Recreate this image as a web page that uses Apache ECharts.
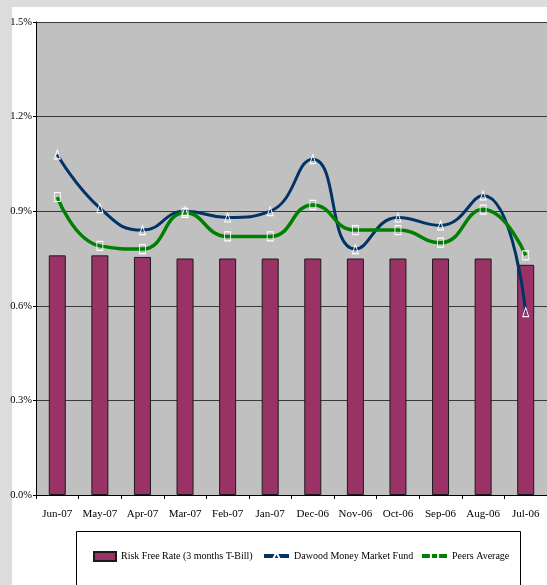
<!DOCTYPE html>
<html>
<head>
<meta charset="utf-8">
<script src="https://cdn.jsdelivr.net/npm/echarts@6/dist/echarts.min.js"></script>
<style>
  html, body { margin: 0; padding: 0; width: 547px; height: 585px; overflow: hidden; background: #dcdcdc; }
  #panel { position: absolute; left: 12px; top: 7px; right: 0; bottom: 0; background: #ffffff; }
  #chart { position: absolute; left: 0; top: 0; width: 547px; height: 585px; }
</style>
</head>
<body>
<div id="panel"></div>
<div id="chart"></div>
<script>
// Monthly returns (%), most recent month first
const categories = ['Jun-07', 'May-07', 'Apr-07', 'Mar-07', 'Feb-07', 'Jan-07',
                    'Dec-06', 'Nov-06', 'Oct-06', 'Sep-06', 'Aug-06', 'Jul-06'];
const riskFreeRate = [0.76, 0.76, 0.755, 0.75, 0.75, 0.75, 0.75, 0.75, 0.75, 0.75, 0.75, 0.73];
const dawoodFund   = [1.08, 0.91, 0.84, 0.90, 0.88, 0.90, 1.065, 0.78, 0.88, 0.855, 0.95, 0.58];
const peersAverage = [0.945, 0.79, 0.78, 0.895, 0.82, 0.82, 0.92, 0.84, 0.84, 0.80, 0.905, 0.76];

const seriesNames = ['Risk Free Rate (3 months T-Bill)', 'Dawood Money Market Fund', 'Peers Average'];
const yMin = 0, yMax = 1.5, yStep = 0.3;

const FONT = 'Liberation Serif';
const chart = echarts.init(document.getElementById('chart'), null, { renderer: 'canvas' });

const legendText = { fontFamily: FONT, fontSize: 10, color: '#000' };
const legendBase = { top: 551, padding: 0, itemGap: 0, textStyle: legendText };

chart.setOption({
  backgroundColor: 'transparent',
  animation: false,
  grid: {
    left: 36, top: 22, width: 516, height: 473,
    show: true, backgroundColor: '#c0c0c0', borderWidth: 0
  },
  xAxis: {
    type: 'category',
    data: categories,
    boundaryGap: true,
    axisLine: { lineStyle: { color: '#000', width: 1 } },
    axisTick: { show: true, length: 4, lineStyle: { color: '#000' } },
    axisLabel: { fontFamily: FONT, fontSize: 11, color: '#000', margin: 14, interval: 0 },
    splitLine: { show: false }
  },
  yAxis: {
    type: 'value',
    min: yMin, max: yMax, interval: yStep,
    axisLine: { show: true, lineStyle: { color: '#000', width: 1 } },
    axisTick: { show: true, length: 3, lineStyle: { color: '#000' } },
    axisLabel: {
      fontFamily: FONT, fontSize: 10.5, color: '#000', margin: 4,
      formatter: v => v.toFixed(1) + '%'
    },
    splitLine: { show: true, lineStyle: { color: '#3a3a3a', width: 1 } }
  },
  legend: [
    Object.assign({ data: [{ name: seriesNames[0], icon: 'rect' }], left: 93, itemWidth: 22, itemHeight: 9 }, legendBase),
    Object.assign({ data: [seriesNames[1]], left: 262, itemWidth: 25, itemHeight: 9,
                    lineStyle: { width: 4 } }, legendBase),
    Object.assign({ data: [seriesNames[2]], left: 420, itemWidth: 25, itemHeight: 9,
                    lineStyle: { width: 4 } }, legendBase)
  ],
  graphic: [{
    type: 'rect',
    shape: { x: 76.5, y: 531.5, width: 444, height: 70 },
    style: { fill: 'none', stroke: '#000', lineWidth: 1 },
    silent: true
  }],
  series: [
    {
      name: seriesNames[0],
      type: 'bar',
      data: riskFreeRate,
      barWidth: 17,
      itemStyle: { color: '#993366', borderColor: '#1a1a1a', borderWidth: 1 }
    },
    {
      name: seriesNames[1],
      type: 'line',
      data: dawoodFund,
      smooth: 0.5,
      symbol: 'triangle',
      symbolSize: [6, 9],
      lineStyle: { color: '#003366', width: 3 },
      itemStyle: { color: 'rgba(0,0,0,0)', borderColor: '#ffffff', borderWidth: 1 }
    },
    {
      name: seriesNames[2],
      type: 'line',
      data: peersAverage,
      smooth: 0.5,
      symbol: 'rect',
      symbolSize: [6, 9],
      lineStyle: { color: '#008000', width: 3.5 },
      itemStyle: { color: 'rgba(0,0,0,0)', borderColor: '#ffffff', borderWidth: 1 }
    }
  ]
});
</script>
</body>
</html>
